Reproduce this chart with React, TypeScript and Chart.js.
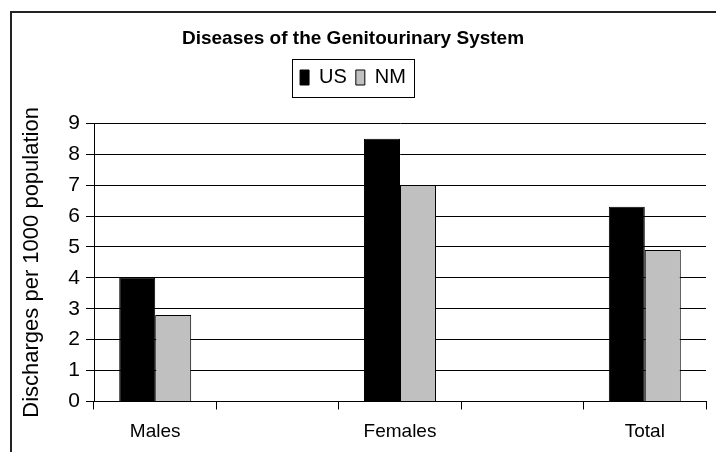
import React, { useEffect, useRef } from 'react';
import { Chart, registerables, layouts } from 'chart.js';

Chart.register(...registerables);

// ---- data ----
const chartTitle = 'Diseases of the Genitourinary System';
const yAxisTitle = 'Discharges per 1000 population';
const categories = ['Males', 'Females', 'Total'];
const seriesNames = ['US', 'NM'];
const usValues = [4.0, 8.5, 6.3];
const nmValues = [2.8, 7.0, 4.9];
const yMin = 0;
const yMax = 9;
const yStep = 1;

// categories are separated by an empty slot, as in the original
const labels: string[] = categories.flatMap((c, i) => (i < categories.length - 1 ? [c, ''] : [c]));
const spread = (vals: number[]) =>
  vals.flatMap((v, i) => (i < vals.length - 1 ? [v, null] : [v])) as (number | null)[];

const FONT = 'Arial, "Liberation Sans", Helvetica, sans-serif';

const gapPlugin = {
  id: 'legendGap',
  beforeInit(chart: any) {
    const box: any = {
      position: 'top',
      weight: -100,
      fullSize: true,
      options: {},
      left: 0, top: 0, right: 0, bottom: 0, width: 0, height: 0,
      isHorizontal() { return true; },
      update(maxWidth: number) {
        this.width = maxWidth;
        this.height = 25.8;
      },
      draw() {},
    };
    layouts.addBox(chart, box);
  },
};

const decorPlugin = {
  id: 'decor',
  beforeDraw(chart: any) {
    const ctx = chart.ctx;
    ctx.save();
    ctx.fillStyle = '#fff';
    ctx.fillRect(0, 0, chart.width, chart.height);
    ctx.restore();
  },
  afterDraw(chart: any) {
    const ctx = chart.ctx;
    ctx.save();
    // outer frame
    ctx.strokeStyle = '#222';
    ctx.lineWidth = 2;
    ctx.beginPath();
    ctx.moveTo(11, chart.height);
    ctx.lineTo(11, 12);
    ctx.lineTo(chart.width, 12);
    ctx.stroke();
    // legend border
    const lg = chart.legend;
    if (lg && lg.legendHitBoxes && lg.legendHitBoxes.length) {
      const hb = lg.legendHitBoxes;
      const l = Math.min(...hb.map((h: any) => h.left)) - 8;
      const r = Math.max(...hb.map((h: any) => h.left + h.width)) + 8;
      ctx.strokeStyle = '#000';
      ctx.lineWidth = 1;
      ctx.strokeRect(Math.round(l) + 0.5, Math.round(lg.top) + 0.5, Math.round(r - l), Math.round(lg.bottom - lg.top) - 1);
    }
    ctx.restore();
  },
};

export default function App() {
  const ref = useRef<HTMLCanvasElement | null>(null);

  useEffect(() => {
    if (!ref.current) return;
    const chart = new Chart(ref.current, {
      type: 'bar',
      data: {
        labels,
        datasets: [
          {
            label: seriesNames[0],
            data: spread(usValues),
            backgroundColor: '#000000',
            borderColor: '#000000',
            borderWidth: 1,
            barPercentage: 1,
            categoryPercentage: 0.588,
          },
          {
            label: seriesNames[1],
            data: spread(nmValues),
            backgroundColor: '#C0C0C0',
            borderColor: '#000000',
            borderWidth: 1,
            barPercentage: 1,
            categoryPercentage: 0.588,
          },
        ],
      },
      options: {
        animation: false,
        responsive: false,
        maintainAspectRatio: false,
        layout: { padding: { left: 0, right: 10, top: 0, bottom: 10 } },
        plugins: {
          tooltip: { enabled: false },
          title: {
            display: true,
            text: chartTitle,
            color: '#000',
            font: { family: FONT, size: 19, weight: 'bold', lineHeight: 1.2 },
            padding: { top: 27.6, bottom: 8.1 },
          },
          legend: {
            display: true,
            position: 'top',
            labels: {
              color: '#000',
              font: { family: FONT, size: 20 },
              boxWidth: 9,
              boxHeight: 15,
              padding: 9,
            },
          },
        },
        scales: {
          x: {
            offset: true,
            afterFit: (s: any) => { s.height = 40.5; },
            grid: {
              offset: true,
              drawOnChartArea: true,
              color: (c: any) => (c.index === labels.length ? '#808080' : 'rgba(0,0,0,0)'),
              tickColor: '#000',
              tickLength: 8,
              lineWidth: 1,
            },
            border: { display: true, color: '#000', width: 1 },
            ticks: {
              autoSkip: false,
              maxRotation: 0,
              color: '#000',
              padding: 11,
              font: { family: FONT, size: 19 },
            },
          },
          y: {
            min: yMin,
            max: yMax,
            afterFit: (s: any) => { s.width = 94; },
            grid: { color: '#000', tickColor: '#000', tickLength: 8, lineWidth: 1 },
            border: { display: true, color: '#000', width: 1 },
            ticks: {
              stepSize: yStep,
              color: '#000',
              padding: 6,
              font: { family: FONT, size: 21 },
            },
            title: {
              display: true,
              text: yAxisTitle,
              color: '#000',
              font: { family: FONT, size: 22, lineHeight: 1.2 },
              padding: { top: 18.8, bottom: 0 },
            },
          },
        },
      },
      plugins: [gapPlugin, decorPlugin],
    } as any);
    return () => chart.destroy();
  }, []);

  return (
    <div style={{ position: 'absolute', left: 0, top: 0, width: 716, height: 452, background: '#fff' }}>
      <canvas ref={ref} width={716} height={452} style={{ display: 'block' }} />
    </div>
  );
}
